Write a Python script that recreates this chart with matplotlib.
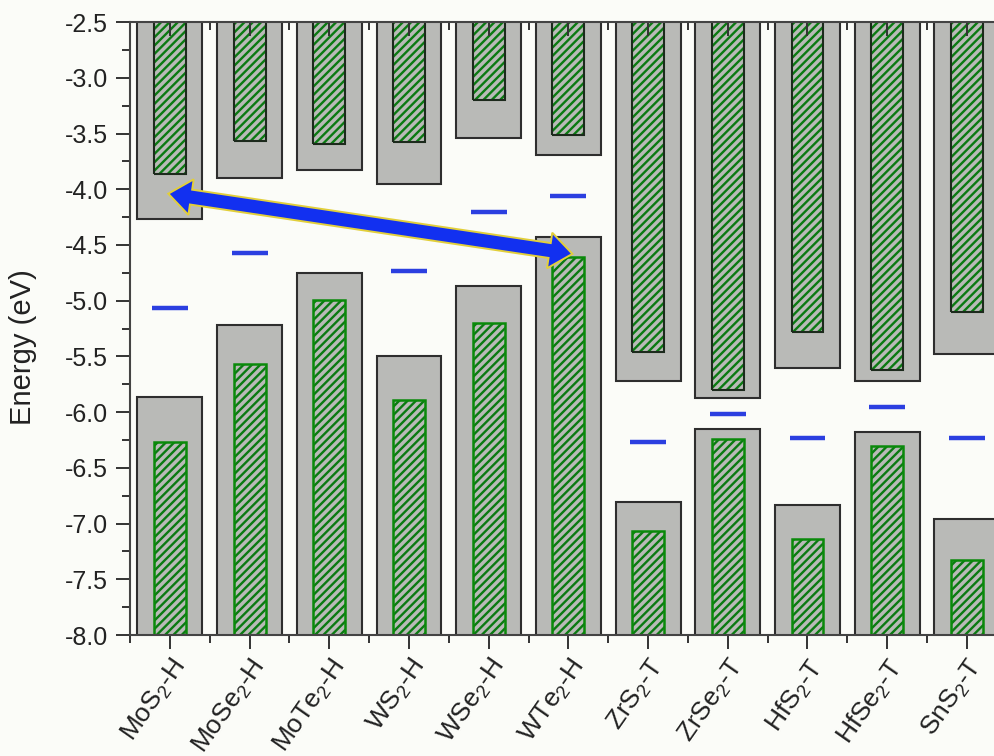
import numpy as np
import matplotlib
matplotlib.use("Agg")
import matplotlib.pyplot as plt
from matplotlib.patches import Polygon
from matplotlib.transforms import IdentityTransform
from matplotlib.ticker import MultipleLocator, FixedLocator

plt.rcParams['font.family'] = ['Liberation Sans', 'DejaVu Sans']
plt.rcParams['mathtext.default'] = 'regular'
plt.rcParams['hatch.linewidth'] = 1.7

materials = ['MoS$_2$-H', 'MoSe$_2$-H', 'MoTe$_2$-H', 'WS$_2$-H', 'WSe$_2$-H', 'WTe$_2$-H',
             'ZrS$_2$-T', 'ZrSe$_2$-T', 'HfS$_2$-T', 'HfSe$_2$-T', 'SnS$_2$-T']

# band edges (eV): outer grey bars and inner hatched bars
cbm_outer = [-4.27, -3.90, -3.83, -3.95, -3.54, -3.69, -5.72, -5.87, -5.60, -5.72, -5.48]
vbm_outer = [-5.86, -5.22, -4.75, -5.50, -4.87, -4.43, -6.81, -6.15, -6.83, -6.18, -6.96]
cbm_inner = [-3.86, -3.57, -3.59, -3.58, -3.20, -3.51, -5.46, -5.80, -5.28, -5.62, -5.10]
vbm_inner = [-6.27, -5.57, -4.99, -5.89, -5.20, -4.61, -7.07, -6.24, -7.14, -6.30, -7.33]
# mid level marks
mid_level = [-5.07, -4.57, np.nan, -4.73, -4.20, -4.06, -6.27, -6.02, -6.23, -5.95, -6.23]

# double arrow between MoS2 CBM and WTe2 VBM
arrow_start = (-0.02, -4.04)
arrow_end = (5.05, -4.58)

y_min, y_max = -8.0, -2.5

fig = plt.figure(figsize=(9.95, 7.56), dpi=100, facecolor='#fbfcf8')
ax = fig.add_axes([0.1307, 0.16, 0.8811, 0.8108])
ax.set_facecolor('#fbfcf8')

x = np.arange(len(materials))
grey = '#b9bab7'
hatch_green = '#0b7a12'

# outer bars: conduction from the top, valence from the bottom
ax.bar(x, np.array(vbm_outer) - (y_min - 1), bottom=y_min - 1, width=0.815,
       color=grey, edgecolor='#2e2e2e', linewidth=1.5, zorder=1)
ax.bar(x, (y_max + 1) - np.array(cbm_outer), bottom=cbm_outer, width=0.815,
       color=grey, edgecolor='#2e2e2e', linewidth=1.5, zorder=1)

# inner hatched bars (hatch colour comes from edgecolor, outline drawn separately)
vb_h = np.array(vbm_inner) - (y_min - 1)
cb_h = (y_max + 1) - np.array(cbm_inner)
ax.bar(x, vb_h, bottom=y_min - 1, width=0.4, color=grey, edgecolor=hatch_green,
       linewidth=0, hatch='////', zorder=1.1)
ax.bar(x, vb_h, bottom=y_min - 1, width=0.4, fill=False, edgecolor='#0a8a0a',
       linewidth=1.8, zorder=1.2)
ax.bar(x, cb_h, bottom=cbm_inner, width=0.4, color=grey, edgecolor=hatch_green,
       linewidth=0, hatch='////', zorder=1.1)
ax.bar(x, cb_h, bottom=cbm_inner, width=0.4, fill=False, edgecolor='#1c2a1c',
       linewidth=1.5, zorder=1.2)

ax.hlines(mid_level, x - 0.225, x + 0.225, color='#2b3fe0', linewidth=3.2, zorder=2)

ax.set_xlim(-0.5, len(materials) - 0.5)
ax.set_ylim(y_min, y_max)

ax.yaxis.set_major_locator(MultipleLocator(0.5))
ax.yaxis.set_minor_locator(MultipleLocator(0.25))
ax.xaxis.set_major_locator(FixedLocator(x))
ax.xaxis.set_minor_locator(FixedLocator(np.arange(-0.5, len(materials), 1.0)))
ax.set_xticklabels(materials, rotation=55, ha='right', va='top', rotation_mode='anchor')
ax.set_yticklabels([f'{v:.1f}' for v in ax.get_yticks()])

ax.tick_params(axis='both', which='both', color='#333333', width=1.4,
               labelcolor='#222222')
ax.tick_params(axis='y', labelsize=18)
ax.tick_params(axis='x', labelsize=19)
ax.tick_params(axis='both', which='major', length=10)
ax.tick_params(axis='both', which='minor', length=6)
ax.tick_params(axis='x', which='both', direction='out', top=True, bottom=True)
ax.tick_params(axis='x', which='major', pad=4)
ax.tick_params(axis='y', which='major', direction='out', right=False, pad=6)
ax.tick_params(axis='y', which='minor', direction='out', right=False)
for t in ax.xaxis.get_major_ticks() + ax.xaxis.get_minor_ticks():
    t.tick2line.set_marker(3)
for sp in ax.spines.values():
    sp.set_color('#444444')
    sp.set_linewidth(1.5)

ax.set_ylabel('Energy (eV)', fontsize=21, color='#222222')
ax.yaxis.set_label_coords(-0.106, 0.47)

# arrow polygon built in pixel space so the head keeps its shape
p0 = ax.transData.transform(arrow_start)
p1 = ax.transData.transform(arrow_end)
u = (p1 - p0) / np.hypot(*(p1 - p0))
n = np.array([-u[1], u[0]])
shaft, head_w, head_l = 7.5, 18.0, 23.0
b0 = p0 + u * head_l
b1 = p1 - u * head_l
pts = [p0, b0 + n * head_w, b0 + n * shaft, b1 + n * shaft, b1 + n * head_w, p1,
       b1 - n * head_w, b1 - n * shaft, b0 - n * shaft, b0 - n * head_w]
ax.add_patch(Polygon(pts, closed=True, facecolor='#1230f0', edgecolor='#e2cf3a',
                     linewidth=1.4, transform=IdentityTransform(), zorder=5,
                     clip_on=False))

fig.savefig('out.png', dpi=100, facecolor=fig.get_facecolor())
